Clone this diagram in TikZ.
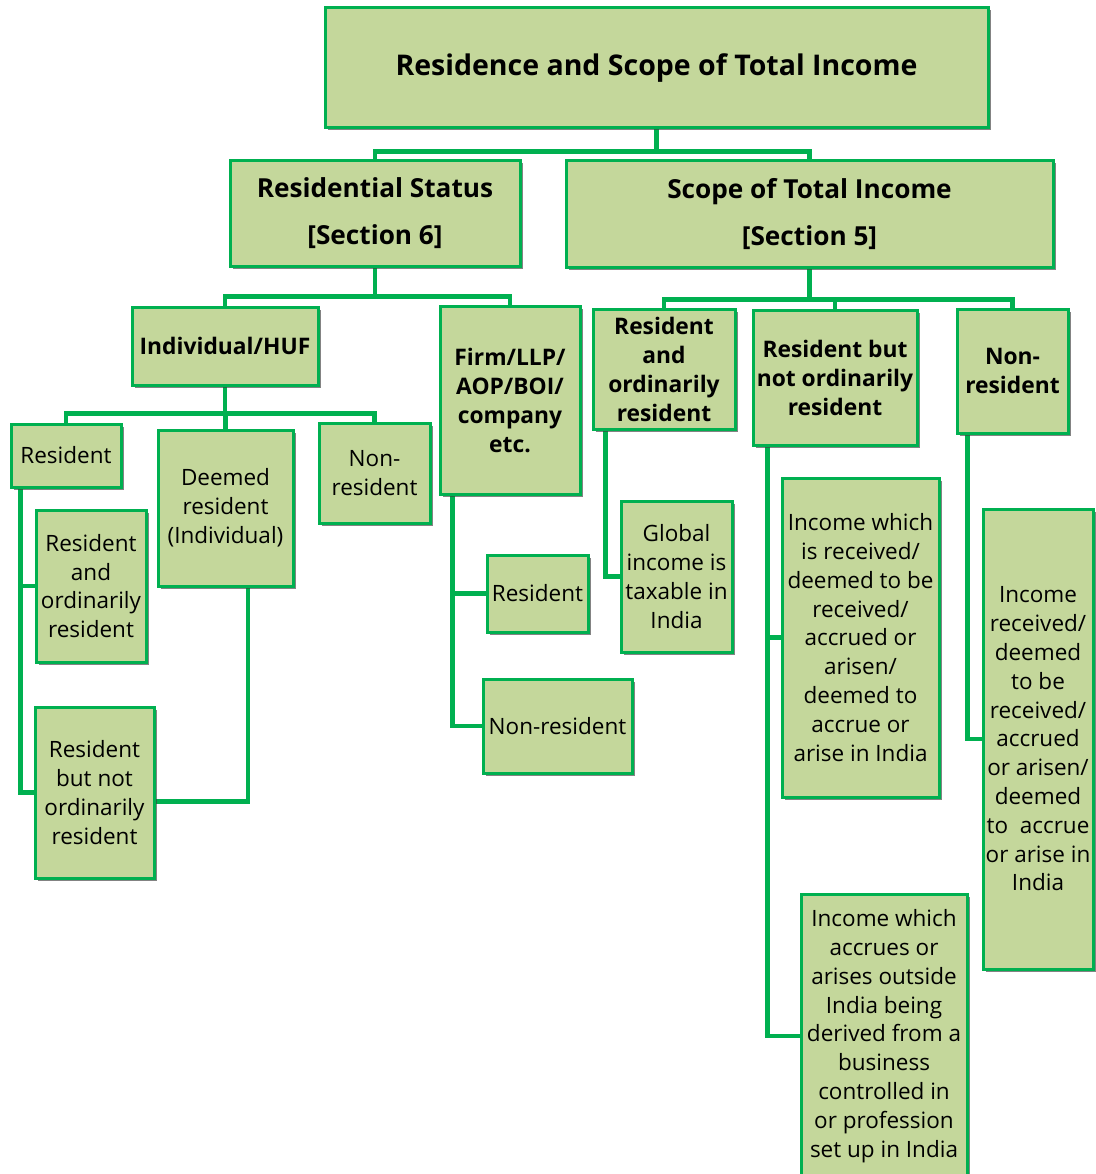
\documentclass[tikz,border=0pt]{standalone}
\usepackage{fontspec}
\setmainfont{Open Sans}
\usetikzlibrary{shadows,backgrounds}
\definecolor{boxfill}{HTML}{C4D79B}
\definecolor{boxline}{HTML}{00B050}
\newcommand\fR{\fontsize{22.5}{28.8}\selectfont}
\newcommand\fB{\bfseries\fontsize{22.8}{29}\selectfont}
\newcommand\fT{\bfseries\fontsize{26.2}{47}\selectfont}
\newcommand\fH{\bfseries\fontsize{28.5}{34}\selectfont}
\tikzset{
  box/.style={draw=boxline, line width=3pt, fill=boxfill, align=center, inner sep=0pt,
    drop shadow={shadow xshift=2.5pt, shadow yshift=-2.5pt, opacity=0.65, fill=black!75}},
  conn/.style={draw=boxline, line width=4.5pt},
}
\begin{document}
\begin{tikzpicture}[x=1pt,y=-1pt]
\useasboundingbox (0,0) rectangle (1095,1174);
% level 1
\node[box, minimum width=663, minimum height=120, font=\fH] (title) at (656.5,68) {\raisebox{-3pt}{Residence and Scope of Total Income}};
% level 2
\node[box, minimum width=290, minimum height=105, font=\fT] (rs) at (375,213.5) {Residential Status\\{}[Section 6]};
\node[box, minimum width=487, minimum height=106, font=\fT] (sti) at (809.5,214) {Scope of Total Income\\{}[Section 5]};
% level 3
\node[box, minimum width=186, minimum height=78, font=\fB] (ind) at (225,346) {Individual/HUF};
\node[box, minimum width=140, minimum height=188, font=\fB] (firm) at (510,400) {Firm/LLP/\\AOP/BOI/\\company\\etc.};
\node[box, minimum width=142, minimum height=120, font=\fB] (rorR) at (664,369) {Resident\\and\\ordinarily\\resident};
\node[box, minimum width=164, minimum height=135, font=\fB] (rnorR) at (835,377.5) {Resident but\\not ordinarily\\resident};
\node[box, minimum width=111, minimum height=124, font=\fB] (nrR) at (1012.5,371) {Non-\\resident};
% level 4 left
\node[box, minimum width=110, minimum height=63, font=\fR] (resL) at (66,455.5) {Resident};
\node[box, minimum width=135, minimum height=156, font=\fR] (deemed) at (225.5,508) {Deemed\\resident\\(Individual)};
\node[box, minimum width=111, minimum height=100, font=\fR] (nonresL) at (374.5,473) {Non-\\resident};
\node[box, minimum width=110, minimum height=152, font=\fR] (rorL) at (91,586) {Resident\\and\\ordinarily\\resident};
\node[box, minimum width=119, minimum height=171, font=\fR] (rnorL) at (94.5,792.5) {Resident\\but not\\ordinarily\\resident};
% firm children
\node[box, minimum width=101, minimum height=77, font=\fR] (resF) at (537.5,593.5) {Resident};
\node[box, minimum width=149, minimum height=94, font=\fR] (nonresF) at (557.5,726) {Non-resident};
% scope children
\node[box, minimum width=111, minimum height=151, font=\fR] (global) at (676.5,576.5) {Global\\income is\\taxable in\\India};
\node[box, minimum width=157, minimum height=319, font=\fR] (inc1) at (860.5,637.5) {Income which\\is received/\\deemed to be\\received/\\accrued or\\arisen/\\deemed to\\accrue or\\arise in India};
\node[box, minimum width=166, minimum height=284, font=\fR] (inc2) at (884,1036) {Income which\\accrues or\\arises outside\\India being\\derived from a\\business\\controlled in\\or profession\\set up in India};
\node[box, minimum width=110, minimum height=460, font=\fR] (inc3) at (1038,739) {Income\\received/\\deemed\\to be\\received/\\accrued\\or arisen/\\deemed\\to\ \ accrue\\or arise in\\India};
% connectors
\begin{scope}[on background layer]
\draw[conn] (title.south) -- ++(0,22) -| (rs.north);
\draw[conn] (title.south) -- ++(0,22) -| (sti.north);
\draw[conn] (rs.south) -- ++(0,29) -| (ind.north);
\draw[conn] (rs.south) -- ++(0,29) -| (firm.north);
\draw[conn] (sti.south) -- ++(0,31) -| (rorR.north);
\draw[conn] (sti.south) -- ++(0,31) -| (rnorR.north);
\draw[conn] (sti.south) -- ++(0,31) -| (nrR.north);
\draw[conn] (ind.south) -- ++(0,27) -| (resL.north);
\draw[conn] (ind.south) -- ++(0,27) -| (deemed.north);
\draw[conn] (ind.south) -- ++(0,27) -| (nonresL.north);
\draw[conn] ([xshift=11pt]resL.south west) |- (rorL.west);
\draw[conn] ([xshift=11pt]resL.south west) |- (rnorL.west);
\draw[conn] ([xshift=22.5pt]deemed.south) |- ([yshift=-9pt]rnorL.east);
\draw[conn] ([xshift=14pt]firm.south west) |- (resF.west);
\draw[conn] ([xshift=14pt]firm.south west) |- (nonresF.west);
\draw[conn] ([xshift=14pt]rorR.south west) |- (global.west);
\draw[conn] ([xshift=16pt]rnorR.south west) |- (inc1.west);
\draw[conn] ([xshift=16pt]rnorR.south west) |- (inc2.west);
\draw[conn] ([xshift=12pt]nrR.south west) |- (inc3.west);
\end{scope}
\end{tikzpicture}
\end{document}
